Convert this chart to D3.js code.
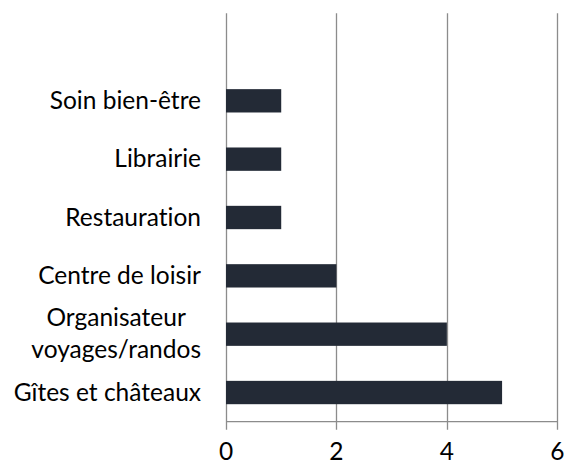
<!DOCTYPE html>
<html><head><meta charset="utf-8">
<script src="https://cdn.jsdelivr.net/npm/d3@7"></script>
<style>body{margin:0;background:#fff;} svg{display:block;} text{font-variant-ligatures:none;font-feature-settings:"liga" 0;}</style>
</head><body>
<svg id="c" width="571" height="465"></svg>
<script>
const categories = ["", "Soin bien-être", "Librairie", "Restauration", "Centre de loisir", "Organisateur \nvoyages/randos", "Gîtes et châteaux"];
const values = [null, 1, 1, 1, 2, 4, 5];
const ticks = [0, 2, 4, 6];

const FONT = "Lato, 'Open Sans', sans-serif";
const FS = 24.5;
const svg = d3.select("#c");
const x = d3.scaleLinear().domain([0, 6]).range([226, 557.3]);
const y = d3.scaleBand().domain(categories).range([13.3, 421.7]).paddingInner(0.6).paddingOuter(0.3);
const top0 = 13.3, bot = 421.7;
const gridColor = "#8c8c8c";

// gridlines
svg.append("g").selectAll("line").data(ticks).join("line")
  .attr("x1", d => Math.round(x(d)) + 0.5).attr("x2", d => Math.round(x(d)) + 0.5)
  .attr("y1", top0).attr("y2", bot + 8)
  .attr("stroke", gridColor).attr("stroke-width", 1.3);
// bottom axis line
svg.append("line").attr("x1", x(0)).attr("x2", x(6)).attr("y1", bot).attr("y2", bot)
  .attr("stroke", gridColor).attr("stroke-width", 1.3);

// bars
const data = categories.map((c, i) => ({c, v: values[i]})).filter(d => d.v != null);
svg.append("g").selectAll("rect").data(data).join("rect")
  .attr("x", x(0)).attr("y", d => y(d.c))
  .attr("width", d => x(d.v) - x(0)).attr("height", y.bandwidth())
  .attr("fill", "#232a36");

// tick labels
svg.append("g").selectAll("text").data(ticks).join("text")
  .attr("x", d => x(d)).attr("y", 460).attr("text-anchor", "middle")
  .attr("font-family", FONT).attr("font-size", FS).attr("fill", "#000")
  .text(d => d);

// category labels
const lineH = 32;
const labelRight = 201;
categories.forEach(c => {
  if (!c) return;
  const lines = c.split("\n").map(l => l.trim());
  const cy = y(c) + y.bandwidth() / 2;
  const g = svg.append("g");
  const texts = lines.map((l, i) => g.append("text")
    .attr("font-family", FONT).attr("font-size", FS).attr("fill", "#000")
    .attr("y", cy + FS * 0.33 + (i - (lines.length - 1) / 2) * lineH)
    .text(l));
  const maxW = d3.max(texts, t => t.node().getComputedTextLength());
  texts.forEach(t => t.attr("text-anchor", "middle").attr("x", labelRight - maxW / 2));
});
</script>
</body></html>
